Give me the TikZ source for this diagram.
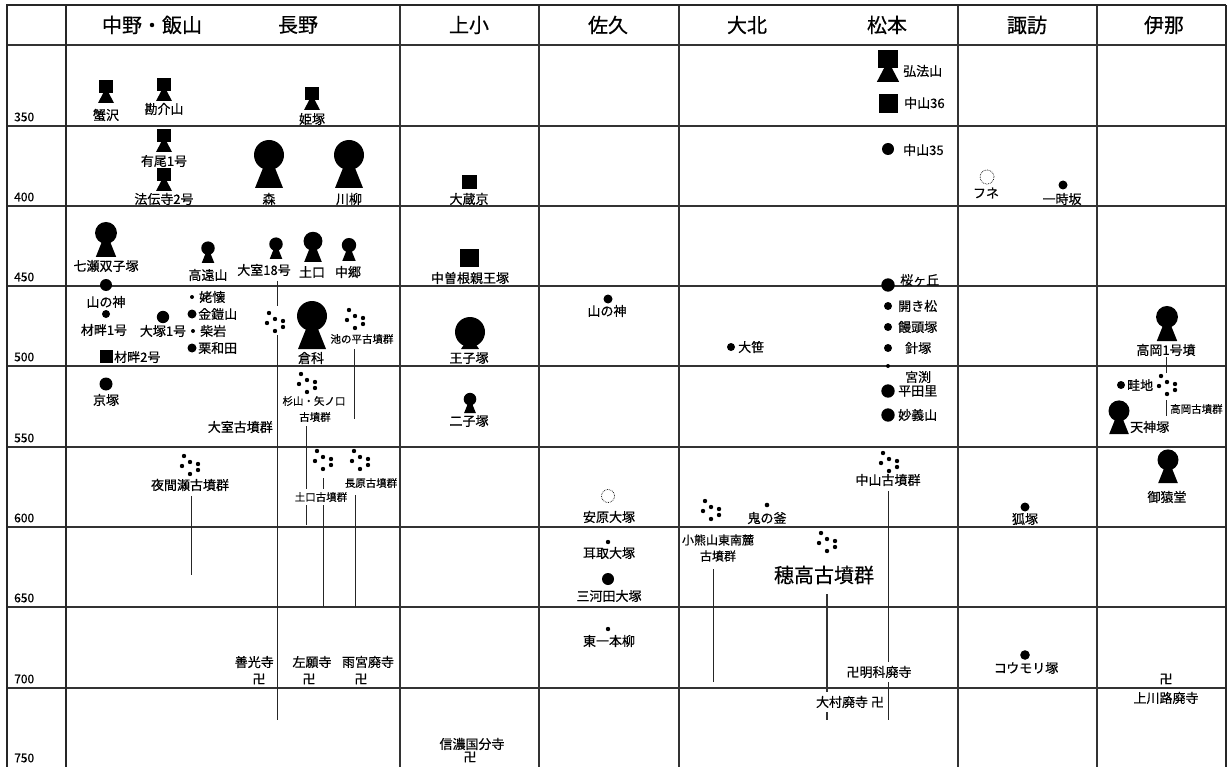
\documentclass[tikz,border=0pt]{standalone}
\usepackage{fontspec}
\newfontfamily\jp[FakeBold=0.5]{Noto Sans CJK JP}
\tikzset{
  pics/keyhole/.style={code={
    \fill (0,-33*#1) circle[radius=15pt*#1];
    \fill (-14*#1,0) -- (14*#1,0) -- (4*#1,-25*#1) -- (-4*#1,-25*#1) -- cycle;
  }},
  pics/sqkey/.style={code={
    \fill (-7*#1,-23*#1) rectangle (7*#1,-10*#1);
    \fill (-8*#1,0) -- (8*#1,0) -- (2.5*#1,-10.5*#1) -- (-2.5*#1,-10.5*#1) -- cycle;
  }},
  pics/grp/.style={code={
    \foreach \p in {(-6,-9),(-8,1),(0,-3),(8,-1),(8,5),(0,9)} \fill \p circle[radius=2.2pt];
  }},
}
\begin{document}
\begin{tikzpicture}[x=1pt,y=-1pt,
  lab/.style={inner sep=0pt,font=\jp\fontsize{13}{14}\selectfont},
  labs/.style={inner sep=0pt,font=\jp\fontsize{10.5}{11}\selectfont},
  labm/.style={inner sep=0pt,font=\jp\fontsize{12}{13}\selectfont},
  head/.style={inner sep=0pt,font=\jp\fontsize{20}{22}\selectfont},
  bigl/.style={inner sep=0pt,font=\jp\fontsize{20}{22}\selectfont},
  yr/.style={inner sep=0pt,anchor=west,font=\jp\fontsize{12}{13}\selectfont},
  gridl/.style={line width=1.2pt,draw=black!80},
  vline/.style={line width=0.9pt,draw=black!85},
  cover/.style={fill=white},
  dcirc/.style={densely dotted,line width=0.7pt}]
\useasboundingbox (0,0) rectangle (1228,767);
% grid
\foreach \yy in {45,126,206,286,366,447,527,607,688} \draw[gridl] (7,\yy) -- (1226,\yy);
\foreach \xx in {400,539,679,958,1097} \draw[gridl] (\xx,5) -- (\xx,767);
\draw[line width=2pt,draw=black!85] (66,5) -- (66,767);
\draw[line width=1.4pt,draw=black!85] (1226,5) -- (1226,767);
\draw[line width=2.6pt,draw=black!85] (7,767) -- (7,5) -- (1226,5);
% headers
\node[head] (hA) at (152,25) {中野・飯山};
\node[head] (hB) at (298,25) {長野};
\node[head] (hC) at (469,25) {上小};
\node[head] (hD) at (608,25) {佐久};
\node[head] (hE) at (747,25) {大北};
\node[head] (hF) at (887,25) {松本};
\node[head] (hG) at (1027,25) {諏訪};
\node[head] (hH) at (1164,25) {伊那};
% years
\foreach \yv/\yy in {350/117,400/197,450/277,500/357,550/438,600/518,650/598,700/679,750/758}
  \node[yr] (y\yv) at (14,\yy) {\yv};
% ---- 300-350
\pic at (106,103) {sqkey=1};
\node[lab] (kanisawa) at (106,115) {蟹沢};
\pic at (164,101) {sqkey=1};
\node[lab] (kansuke) at (164,109) {勘介山};
\pic at (312,110) {sqkey=1};
\node[lab] (himezuka) at (312,119) {姫塚};
\pic at (888,82) {sqkey=1.4};
\node[lab,anchor=west] (kobo) at (903,71) {弘法山};
\fill (879,94) rectangle (898,113);
\node[lab,anchor=west] (naka36) at (904,103) {中山36};
% ---- 350-400
\pic at (164,152) {sqkey=1};
\node[lab] (ario) at (164,161) {有尾1号};
\pic at (164,191) {sqkey=1};
\node[lab] (hodenji) at (164,199) {法伝寺2号};
\pic at (269,188) {keyhole=1};
\node[lab] (mori) at (269,199) {森};
\pic at (349,188) {keyhole=1};
\node[lab] (kawayanagi) at (349,199) {川柳};
\fill (462,175) rectangle (477,189);
\node[lab] (okurakyo) at (469,199) {大蔵京};
\fill (888,149) circle[radius=6pt];
\node[lab,anchor=west] (naka35) at (903,150) {中山35};
\draw[dcirc] (987,177) circle[radius=7pt];
\node[lab] (fune) at (986,193) {フネ};
\fill (1063,185) circle[radius=4.5pt];
\node[lab] (ichiji) at (1062,199) {一時坂};
% ---- 400-450
\pic at (106,257) {keyhole=0.73};
\node[lab] (nanase) at (106,266) {七瀬双子塚};
\pic at (208,263) {keyhole=0.45};
\node[lab] (takato) at (208,275) {高遠山};
\pic at (276,259) {keyhole=0.45};
\node[lab] (omuro18) at (264,270) {大室18号};
\pic at (313,262) {keyhole=0.63};
\node[lab] (tsuchiguchi) at (312,272) {土口};
\pic at (349,261) {keyhole=0.48};
\node[lab] (nakago) at (348,272) {中郷};
\fill (460,249) rectangle (479,267);
\node[lab] (nakasone) at (470,278) {中曽根親王塚};
\fill (888,285) circle[radius=6.7pt];
\node[lab,anchor=west] (sakuragaoka) at (900,280) {桜ヶ丘};
% ---- 450-500
\fill (106,285) circle[radius=6pt];
\node[lab] (yamanokamiA) at (106,302) {山の神};
\fill (106,314) circle[radius=4pt];
\node[lab] (zaiguro1) at (104,330) {材畔1号};
\fill (163,317) circle[radius=6.2pt];
\node[lab] (otsuka1) at (163,331) {大塚1号};
\fill (192,297) circle[radius=2pt];
\node[lab,anchor=west] (ubafu) at (199,297) {姥懐};
\fill (192,314) circle[radius=4.5pt];
\node[lab,anchor=west] (kinkai) at (198,314) {金鎧山};
\fill (193,331) circle[radius=2pt];
\node[lab,anchor=west] (shibaiwa) at (200,331) {柴岩};
\fill (192,348) circle[radius=4.5pt];
\node[lab,anchor=west] (kuriwada) at (198,348) {栗和田};
\fill (100,350) rectangle (113,363);
\node[lab,anchor=west] (zaiguro2) at (114,357) {材畔2号};
\coordinate (gOmuro) at (275,322); \pic at (gOmuro) {grp};
\pic at (312,349) {keyhole=1};
\node[lab] (kurashina) at (311,358) {倉科};
\coordinate (gIke) at (355,319); \pic at (gIke) {grp};
\node[labs] (ikenotaira) at (362,339) {池の平古墳群};
\fill (470,332) circle[radius=15pt];
\fill (461,349) -- (479,349) -- (475,343) -- (465,343) -- cycle;
\node[lab] (oujizuka) at (469,358) {王子塚};
\fill (608,299) circle[radius=4.5pt];
\node[lab] (yamanokamiB) at (607,311) {山の神};
\fill (731,347) circle[radius=4pt];
\node[lab,anchor=west] (ozasa) at (738,347) {大笹};
\fill (888,306) circle[radius=4pt];
\node[lab,anchor=west] (hirakimatsu) at (898,306) {開き松};
\fill (888,327) circle[radius=4pt];
\node[lab,anchor=west] (manju) at (898,327) {饅頭塚};
\fill (888,348) circle[radius=4pt];
\node[lab,anchor=west] (harizuka) at (905,348) {針塚};
\pic at (1167,341) {keyhole=0.73};
\node[lab] (takaoka1) at (1166,350) {高岡1号墳};
% ---- 500-550
\fill (106,384) circle[radius=6.5pt];
\node[lab] (kyozuka) at (106,400) {京塚};
\node[lab,anchor=east] (omuroG) at (273,427) {大室古墳群};
\coordinate (gSugi) at (307,383); \pic at (gSugi) {grp};
\node[labs] (sugiyama) at (314,401) {杉山・矢ノ口};
\node[labs] (sugiyama2) at (315,417) {古墳群};
\pic at (470,413) {keyhole=0.42};
\node[lab] (futagozuka) at (469,421) {二子塚};
\fill (888,366) circle[radius=2pt];
\node[lab,anchor=west] (miyabuchi) at (905,377) {宮渕};
\fill (888,391) circle[radius=6.7pt];
\node[lab,anchor=west] (hirata) at (898,391) {平田里};
\fill (888,415) circle[radius=6.7pt];
\node[lab,anchor=west] (myogi) at (898,415) {妙義山};
\fill (1121,385) circle[radius=4pt];
\node[lab,anchor=west] (azechi) at (1127,385) {畦地};
\coordinate (gTakaoka) at (1167,385); \pic at (gTakaoka) {grp};
\node[labs,anchor=west] (takaokaG) at (1170,409) {高岡古墳群};
\pic at (1119,434) {keyhole=0.7};
\node[lab,anchor=west] (tenjin) at (1130,427) {天神塚};
% ---- 550-600
\coordinate (gYoma) at (190,465); \pic at (gYoma) {grp};
\node[lab] (yomaseG) at (190,485) {夜間瀬古墳群};
\coordinate (gTsuchi) at (323,460); \pic at (gTsuchi) {grp};
\coordinate (gNagahara) at (360,460); \pic at (gNagahara) {grp};
\node[labs] (nagaharaG) at (371,483) {長原古墳群};
\draw[dcirc] (608,496) circle[radius=6.5pt];
\node[lab] (yasuhara) at (609,517) {安原大塚};
\coordinate (gOguma) at (711,510); \pic at (gOguma) {grp};
\fill (767,505) circle[radius=2.3pt];
\node[lab] (oninokama) at (767,518) {鬼の釜};
\coordinate (gNakayama) at (889,462); \pic at (gNakayama) {grp};
\node[lab] (nakayamaG) at (888,480) {中山古墳群};
\fill (1025,507) circle[radius=4.5pt];
\node[lab] (kitsune) at (1025,519) {狐塚};
\pic at (1168,483) {keyhole=0.7};
\node[lab] (gosaru) at (1167,497) {御猿堂};
% ---- 600-650
\fill (608,542) circle[radius=2.2pt];
\node[lab] (mitori) at (609,553) {耳取大塚};
\fill (608,579) circle[radius=6pt];
\node[lab] (mikawada) at (609,596) {三河田大塚};
\node[labm] (oguma) at (718,540) {小熊山東南麓};
\node[labm] (oguma2) at (718,556) {古墳群};
\coordinate (gHotaka) at (827,542); \pic at (gHotaka) {grp};
\node[bigl] (hotaka) at (824,575) {穂高古墳群};
% ---- 650-700
\node[lab,anchor=east] (zenkoji) at (274,662) {善光寺};
\node[lab] (zenkojiM) at (259,679) {卍};
\node[lab] (sagan) at (312,662) {左願寺};
\node[lab] (saganM) at (309,679) {卍};
\node[lab] (amemiya) at (368,662) {雨宮廃寺};
\node[lab] (amemiyaM) at (361,679) {卍};
\fill (608,629) circle[radius=2.2pt];
\node[lab] (higashi) at (609,641) {東一本柳};
\fill (1025,655) circle[radius=4.8pt];
\node[lab] (koumori) at (1026,668) {コウモリ塚};
\node[lab] (kamikawajiM) at (1166,679) {卍};
\node[lab] (kamikawaji) at (1166,698) {上川路廃寺};
% ---- 700-750
\node[lab] (shinano) at (472,744) {信濃国分寺};
\node[lab] (shinanoM) at (470,757) {卍};
% ---- duration lines
\coordinate (omA) at (277,281); \coordinate (omB) at (277,306);
\coordinate (omC) at (277,335); \coordinate (omD) at (277,720);
\draw[vline] (omA) -- (omB); \draw[vline] (omC) -- (omD);
\coordinate (ikA) at (354,349); \coordinate (ikB) at (354,419);
\draw[vline] (ikA) -- (ikB);
\coordinate (suA) at (306,426); \coordinate (suB) at (306,525);
\draw[vline] (suA) -- (suB);
\coordinate (tsA) at (323,478); \coordinate (tsB) at (323,607);
\draw[vline] (tsA) -- (tsB);
\coordinate (naA) at (355,495); \coordinate (naB) at (355,607);
\draw[vline] (naA) -- (naB);
\coordinate (yoA) at (191,496); \coordinate (yoB) at (191,575);
\draw[vline] (yoA) -- (yoB);
\coordinate (nkA) at (888,491); \coordinate (nkB) at (888,720);
\draw[vline] (nkA) -- (nkB);
\coordinate (ogA) at (713,569); \coordinate (ogB) at (713,682);
\draw[vline] (ogA) -- (ogB);
\coordinate (hoA) at (827,594); \coordinate (hoB) at (827,720);
\draw[line width=2pt,draw=black!80] (hoA) -- (hoB);
\coordinate (taA) at (1166,357); \coordinate (taB) at (1166,373);
\coordinate (taC) at (1166,400); \coordinate (taD) at (1166,416);
\draw[vline] (taA) -- (taB); \draw[vline] (taC) -- (taD);
% labels over lines
\node[labs,cover,inner sep=3pt] (tsuchiG) at (321,497) {土口古墳群};
\node[lab,cover,inner sep=4pt] (akashina) at (879,672) {卍明科廃寺};
\node[lab,cover,inner sep=4pt] (omura) at (850,702) {大村廃寺 卍};
\end{tikzpicture}
\end{document}
